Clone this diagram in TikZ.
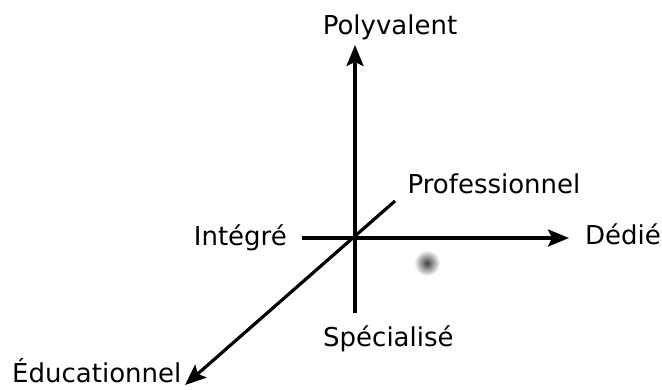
\documentclass[tikz,border=0pt]{standalone}
\usepackage{fontspec}
\setmainfont{DejaVu Sans}
\usetikzlibrary{arrows.meta}
\begin{document}
\begin{tikzpicture}[x=1bp,y=-1bp,
  lbl/.style={inner sep=0pt, font=\fontsize{26bp}{30bp}\selectfont},
  axis/.style={line width=3.2bp},
  arr/.style={axis, -{Stealth[length=21bp,width=17bp,inset=4bp]}},
  blob/.style={circle, minimum size=26bp, inner sep=0pt, inner color=black!75, outer color=white}]
\useasboundingbox (0,0) rectangle (662,389);
\fill[white] (0,0) rectangle (662,389);
% axis end points
\coordinate (vbot) at (355,313);
\coordinate (vtop) at (355,45);
\coordinate (hleft) at (302,238);
\coordinate (hright) at (569,238);
\coordinate (dtop) at (395,201);
\coordinate (dbot) at (185,385);
% labels
\node[lbl, anchor=base] (poly) at (390,34) {Polyvalent};
\node[lbl, anchor=base] (pro) at (494,193) {Professionnel};
\node[lbl, anchor=base east] (integ) at (287,245) {Intégré};
\node[lbl, anchor=base west] (dedie) at (585,244) {Dédié};
\node[lbl, anchor=base west] (spec) at (323,346) {Spécialisé};
\node[lbl, anchor=base west] (educ) at (12,382) {Éducationnel};
% axes
\draw[arr] (vbot) -- (vtop);
\draw[arr] (hleft) -- (hright);
\draw[arr] (dtop) -- (dbot);
% point
\node[blob] (pt) at (427,263) {};
\end{tikzpicture}
\end{document}
